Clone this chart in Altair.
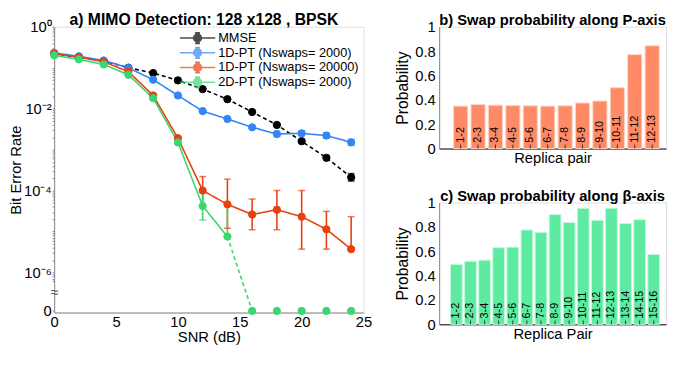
import math
import altair as alt
import pandas as pd

# ---------------- data: panel a ----------------
snr = [0, 2, 4, 6, 8, 10, 12, 14, 16, 18, 20, 22, 24]

mmse_ber = [0.22, 0.18, 0.146, 0.10, 0.074, 0.049, 0.030, 0.017, 0.0083, 0.0040, 0.0016, 6.3e-4, 2.1e-4]
mmse_lo = [0.22, 0.18, 0.146, 0.10, 0.074, 0.049, 0.030, 0.017, 0.0080, 0.0038, 0.0015, 5.7e-4, 1.7e-4]
mmse_hi = [0.22, 0.18, 0.146, 0.10, 0.074, 0.049, 0.030, 0.017, 0.0086, 0.0042, 0.0017, 7.0e-4, 2.6e-4]

pt1_ber = [0.23, 0.19, 0.15, 0.099, 0.051, 0.021, 0.0087, 0.0056, 0.0035, 0.0024, 0.0025, 0.0022, 0.0015]
pt1_lo = [0.23, 0.19, 0.15, 0.099, 0.051, 0.021, 0.0085, 0.0054, 0.0033, 0.0021, 0.0022, 0.0019, 0.00127]
pt1_hi = [0.23, 0.19, 0.15, 0.099, 0.051, 0.021, 0.0089, 0.0058, 0.0038, 0.0028, 0.00285, 0.00255, 0.00178]

pt2_ber = [0.22, 0.18, 0.14, 0.080, 0.021, 0.0019, 1.0e-4, 4.6e-5, 2.6e-5, 3.4e-5, 2.3e-5, 1.13e-5, 3.7e-6]
pt2_lo = [0.22, 0.18, 0.14, 0.080, 0.021, 0.0018, 4.2e-5, 1.2e-5, 1.1e-5, 1.1e-5, 3.7e-6, 3.7e-6, 3.7e-6]
pt2_hi = [0.22, 0.18, 0.14, 0.080, 0.021, 0.0021, 2.2e-4, 1.9e-4, 6.2e-5, 1.0e-4, 1.0e-4, 3.1e-5, 2.3e-5]

pt3_ber = [0.20, 0.16, 0.12, 0.067, 0.018, 0.0015, 4.2e-5, 7.5e-6, 0, 0, 0, 0, 0]
pt3_lo = [0.20, 0.16, 0.12, 0.067, 0.018, 0.0014, 1.9e-5, 7.5e-6, 0, 0, 0, 0, 0]
pt3_hi = [0.20, 0.16, 0.12, 0.067, 0.018, 0.0016, 1.0e-4, 4.3e-5, 0, 0, 0, 0, 0]

series_names = ["MMSE", "1D-PT (Nswaps= 2000)", "1D-PT (Nswaps= 20000)", "2D-PT (Nswaps= 2000)"]
series_colors = ["#000000", "#3385F5", "#E8400F", "#3AD672"]

# ---------------- data: panels b, c ----------------
pairs_p = ["1-2", "2-3", "3-4", "4-5", "5-6", "6-7", "7-8", "8-9", "9-10", "10-11", "11-12", "12-13"]
prob_p = [0.348, 0.361, 0.356, 0.353, 0.351, 0.348, 0.351, 0.374, 0.390, 0.499, 0.771, 0.844]

pairs_b = ["1-2", "2-3", "3-4", "4-5", "5-6", "6-7", "7-8", "8-9", "9-10", "10-11",
           "11-12", "12-13", "13-14", "14-15", "15-16"]
prob_b = [0.491, 0.517, 0.527, 0.629, 0.634, 0.775, 0.755, 0.901, 0.836, 0.953,
          0.854, 0.953, 0.828, 0.859, 0.574]

FONT = "Liberation Sans"
ZERO_POS = -6.94      # where the "0" level sits below the axis break
BREAK_POS = -6.47

# ---------------- build tables ----------------
rows = []
for name, b, lo, hi in zip(series_names,
                           [mmse_ber, pt1_ber, pt2_ber, pt3_ber],
                           [mmse_lo, pt1_lo, pt2_lo, pt3_lo],
                           [mmse_hi, pt1_hi, pt2_hi, pt3_hi]):
    for s, v, l, h in zip(snr, b, lo, hi):
        rows.append({"snr": s, "ber": v, "lo": l, "hi": h, "series": name})
df = pd.DataFrame(rows)

line_rows = []
for r in rows:
    if r["ber"] > 0:
        line_rows.append({**r, "seg": r["series"],
                          "dash": "dash" if r["series"] == "MMSE" else "solid"})
# green gap segment (last nonzero point to first zero point)
g = [r for r in rows if r["series"] == series_names[3]]
for i in range(1, len(g)):
    if g[i]["ber"] == 0 and g[i - 1]["ber"] > 0:
        for r in (g[i - 1], g[i]):
            line_rows.append({**r, "seg": "gap", "dash": "dash"})
ldf = pd.DataFrame(line_rows)

ycalc = f"datum.ber > 0 ? log(datum.ber)/LN10 : {ZERO_POS}"

major = [0, -2, -4, -6]
minor = []
for e in range(0, -7, -1):
    for k in range(2, 10):
        minor.append(math.log10(k) + e - 1)
for e in [-1, -3, -5]:
    minor.append(e)
tick_vals = major + [ZERO_POS] + [m for m in minor if m > -6.3]

label_expr = ("datum.value == 0 ? '10⁰' : datum.value == -2 ? '10⁻²' : "
              "datum.value == -4 ? '10⁻⁴' : datum.value == -6 ? '10⁻⁶' : "
              f"datum.value < -6.8 ? '0' : ''")

X_AXIS = alt.Axis(values=[0, 5, 10, 15, 20, 25], title="SNR (dB)", grid=False,
                  ticks=False, labelFontSize=15, titleFontSize=15, labelPadding=2,
                  titlePadding=0, domainColor="#888888",
                  labelColor="black", titleColor="black", labelFlush=False,
                  labelOverlap=False)
Y_AXIS = alt.Axis(values=tick_vals, labelExpr=label_expr, title="Bit Error Rate",
                  grid=False, tickSize=2, labelFontSize=15, titleFontSize=15,
                  labelPadding=1, titlePadding=0, domainColor="#888888",
                  tickColor="#888888", labelColor="black", titleColor="black",
                  labelOverlap=False, labelFlush=False)
xs_scale = alt.Scale(domain=[0, 25], nice=False)
ys_scale = alt.Scale(domain=[-6.98, 0], nice=False, zero=False)


def xenc(f):
    return alt.X(f, scale=xs_scale, axis=X_AXIS)


def yenc(f):
    return alt.Y(f, scale=ys_scale, axis=Y_AXIS)


cscale = alt.Scale(domain=series_names, range=series_colors)
sym = "M-1,0H1M0.22,0A0.22,0.22,0,1,1,-0.22,0A0.22,0.22,0,1,1,0.22,0M-0.14,-0.3H0.14M-0.14,0.3H0.14M0,-0.3V0.3"
leg = alt.Legend(title=None, orient="top-right", offset=4, symbolType=sym, symbolSize=1300,
                 symbolStrokeWidth=1.6, labelFontSize=13, labelFont=FONT, clipHeight=15,
                 rowPadding=0, labelOffset=2, padding=0, labelColor="black")
col = alt.Color("series:N", scale=cscale, legend=leg)

lines = alt.Chart(ldf).mark_line(strokeWidth=1.6).transform_calculate(yv=ycalc).encode(
    x=xenc("snr:Q"), y=yenc("yv:Q"), color=col, detail="seg:N",
    strokeDash=alt.StrokeDash("dash:N", scale=alt.Scale(domain=["solid", "dash"],
                                                         range=[[1, 0], [4, 3]]), legend=None),
)

err = alt.Chart(df).transform_filter("datum.hi > datum.lo").transform_calculate(
    ylo="log(datum.lo)/LN10", yhi="log(datum.hi)/LN10")
err_rule = err.mark_rule(strokeWidth=1.6).encode(
    x=xenc("snr:Q"), y=yenc("ylo:Q"), y2="yhi:Q", color=col)
cap_lo = err.mark_tick(orient="horizontal", size=7, thickness=1.5).encode(
    x=xenc("snr:Q"), y=yenc("ylo:Q"), color=col)
cap_hi = err.mark_tick(orient="horizontal", size=7, thickness=1.5).encode(
    x=xenc("snr:Q"), y=yenc("yhi:Q"), color=col)

points = alt.Chart(df).mark_point(shape="circle", size=55, filled=False, opacity=1,
                                  strokeWidth=1).transform_calculate(yv=ycalc).encode(
    x=xenc("snr:Q"), y=yenc("yv:Q"), color=col,
    fill=alt.Fill("series:N", scale=cscale, legend=leg),
)

brk = alt.Chart(pd.DataFrame({"snr": [0], "yv": [BREAK_POS]})).mark_text(
    text="≈", fontSize=15, font=FONT, color="#555555").encode(
    x=xenc("snr:Q"), y=yenc("yv:Q"))

left = alt.layer(lines, err_rule, cap_lo, cap_hi, points, brk).properties(
    width=315, height=291,
    title=alt.TitleParams("a) MIMO Detection: 128 x128 , BPSK", fontSize=16, font=FONT,
                          fontWeight="bold", offset=-8, frame="group", dx=-5),
)


def bar_panel(pairs, probs, fill, stroke, title, xtitle, height, pin, pout, align):
    d = pd.DataFrame({"pair": pairs, "p": probs})
    xscale = alt.Scale(domain=pairs, paddingInner=pin, paddingOuter=pout, align=align)
    xax = alt.Axis(title=xtitle, labels=False, ticks=False, domainColor="black",
                   titleFontSize=15, titlePadding=2, titleColor="black")
    yax = alt.Axis(values=[0, 0.2, 0.4, 0.6, 0.8, 1], format="~g", title="Probability",
                   grid=False, ticks=False, labelFontSize=15, titleFontSize=16,
                   labelPadding=4, titlePadding=4, domainColor="#888888",
                   labelColor="black", titleColor="black", labelOverlap=False,
                   labelFlush=False)
    ysc = alt.Scale(domain=[0, 1], nice=False)
    x = alt.X("pair:N", scale=xscale, sort=pairs, axis=xax)
    base = alt.Chart(d)
    bars = base.mark_bar(color=fill, stroke=stroke, strokeWidth=1).encode(
        x=x, y=alt.Y("p:Q", scale=ysc, axis=yax))
    ticks = base.mark_tick(orient="vertical", size=4, thickness=1, color="black",
                           yOffset=-2).encode(x=x, y=alt.Y(datum=0, scale=ysc, axis=yax))
    labels = base.mark_text(angle=270, align="left", baseline="middle", fontSize=11,
                            font=FONT, color="black", yOffset=-6).encode(
        x=x, y=alt.Y(datum=0, scale=ysc, axis=yax), text="pair:N")
    return alt.layer(bars, ticks, labels).properties(
        width=231, height=height,
        title=alt.TitleParams(title, fontSize=15, font=FONT, fontWeight="bold", offset=-8))


pb = bar_panel(pairs_p, prob_p, "#FF8A66", "#FFD2C2", "b) Swap probability along P-axis",
               "Replica pair", 124, 0.19, 0.61, 0.68)
pc = bar_panel(pairs_b, prob_b, "#5EEBA1", "#C2F7DC", "c) Swap probability along β-axis",
               "Replica Pair", 124, 0.167, 0.63, 0.64)

right = alt.vconcat(pb, pc, spacing=22)

chart = alt.hconcat(left, right, spacing=22).resolve_scale(
    color="independent", fill="independent"
).resolve_legend(
    color="independent", fill="independent"
).properties(
    padding={"left": 0, "top": 0, "right": 0, "bottom": 0}
).configure_view(stroke="#A8A8A8", strokeWidth=1).configure(
    font=FONT
).configure_axis(labelFont=FONT, titleFont=FONT, titleFontWeight="normal", labelOverlap=False)

chart.save("out.html", embed_options={"renderer": "svg", "actions": False})
